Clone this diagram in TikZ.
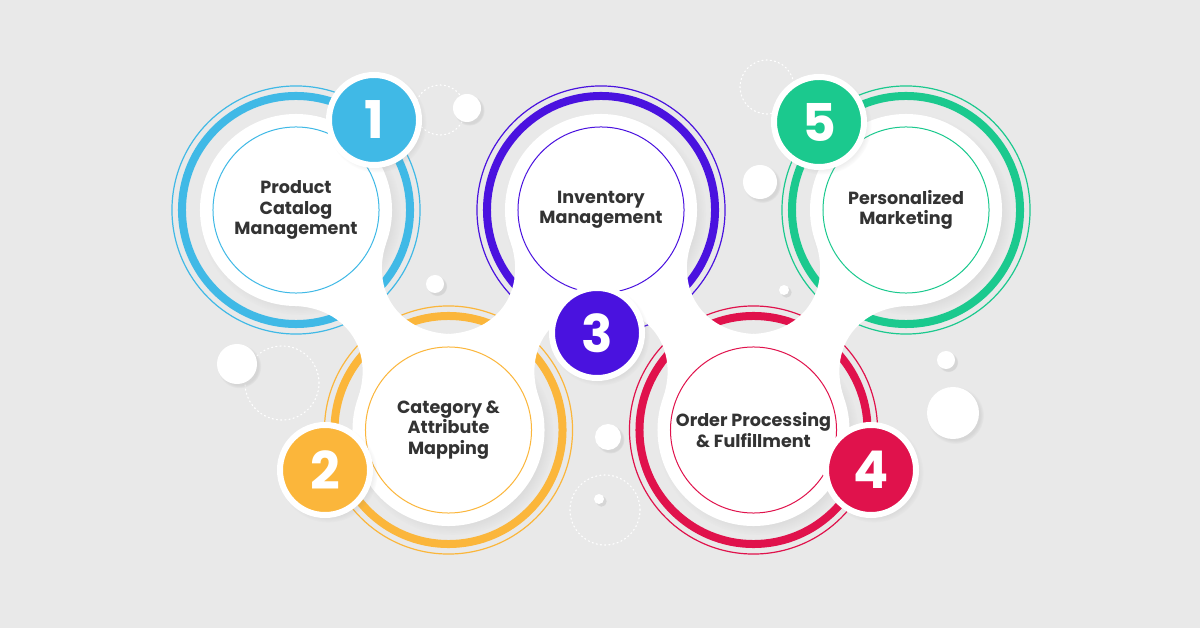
\documentclass[tikz,border=0pt]{standalone}
\usepackage{fontspec}
\setmainfont{Poppins}
\usetikzlibrary{calc,shadows,positioning}

\definecolor{bgray}{HTML}{E9E9E9}
\definecolor{cblue}{HTML}{40B9E6}
\definecolor{corange}{HTML}{FBB63B}
\definecolor{cpurple}{HTML}{4A12DF}
\definecolor{cred}{HTML}{E0124C}
\definecolor{cgreen}{HTML}{1BC98E}

\tikzset{
	disk/.style={circle, fill=white, minimum size=4.8cm, inner sep=0pt, align=center,
		font=\fontsize{12.5}{14.5}\selectfont\bfseries, text=black!80,
		circular drop shadow={shadow scale=1.05, shadow xshift=3pt, shadow yshift=-3pt, opacity=.16}},
	badge/.style={circle, fill=#1, draw=white, line width=.15cm, minimum size=2.25cm, inner sep=0pt,
		text=white, font=\fontsize{37}{37}\selectfont\bfseries,
		circular drop shadow={shadow scale=1.1, shadow xshift=2pt, shadow yshift=-2pt, opacity=.16}},
	blob/.style={circle, fill=white, minimum size=#1, inner sep=0pt,
		circular drop shadow={shadow scale=1.1, shadow xshift=1.5pt, shadow yshift=-1.5pt, opacity=.18}},
	dotring/.style={draw=white, line width=.8pt, dash pattern=on .8pt off 2.2pt, line cap=round},
}

%% white neck between two disks
\newcommand\stepbridge[2]{
	\fill[white] ($(#1.center)!2.4cm!35:(#2.center)$)
		.. controls ($(#1.center)!2.75cm!8:(#2.center)$) and ($(#2.center)!2.75cm!-8:(#1.center)$)
		.. ($(#2.center)!2.4cm!-35:(#1.center)$)
		-- ($(#2.center)!2.4cm!35:(#1.center)$)
		.. controls ($(#2.center)!2.75cm!8:(#1.center)$) and ($(#1.center)!2.75cm!-8:(#2.center)$)
		.. ($(#1.center)!2.4cm!-35:(#2.center)$) -- cycle;
}

\begin{document}
\begin{tikzpicture}[x=0.025cm, y=-0.025cm]
\useasboundingbox[fill=bgray] (0,0) rectangle (1200,628);

%% dotted rings and white dots in the back
\foreach \x/\y/\r in {440/110/.625, 767/87/.675, 282/383/.925, 605/510/.875}{
	\draw[dotring] (\x,\y) circle[radius=\r cm];
}
\foreach \x/\y/\d [count=\n] in {467/108/.7, 760/182/.85, 608/437/.65, 599/499/.25, 946/360/.45, 953/413/1.3, 435/284/.45, 784/290/.25, 237/364/1}{
	\node[blob=\d cm] (dot\n) at (\x,\y) {};
}

%% coloured rings
\foreach \x/\y/\col in {296/210/cblue, 448.5/430/corange, 601/210/cpurple, 753.5/430/cred, 906/210/cgreen}{
	\draw[\col, line width=.03cm] (\x,\y) circle[radius=3.1cm];
	\draw[\col, line width=.2cm] (\x,\y) circle[radius=2.85cm];
}

%% white disks
\node[disk] (s1) at (296,210) {Product\\Catalog\\Management};
\node[disk] (s2) at (448.5,430) {Category \&\\Attribute\\Mapping};
\node[disk] (s3) at (601,210) {Inventory\\Management};
\node[disk] (s4) at (753.5,430) {Order Processing\\\& Fulfillment};
\node[disk] (s5) at (906,210) {Personalized\\Marketing};

\foreach \a/\b in {s1/s2, s2/s3, s3/s4, s4/s5}{
	\stepbridge{\a}{\b}
}

%% thin inner lines
\foreach \i/\col in {1/cblue, 2/corange, 3/cpurple, 4/cred, 5/cgreen}{
	\draw[\col, line width=.025cm] (s\i.center) circle[radius=2.075cm];
}

%% number badges
\node[badge=cblue] (b1) at (374,120) {1};
\node[badge=corange] (b2) at (325,470) {2};
\node[badge=cpurple] (b3) at (597,333) {3};
\node[badge=cred] (b4) at (871,470) {4};
\node[badge=cgreen] (b5) at (819,122) {5};
\end{tikzpicture}
\end{document}
